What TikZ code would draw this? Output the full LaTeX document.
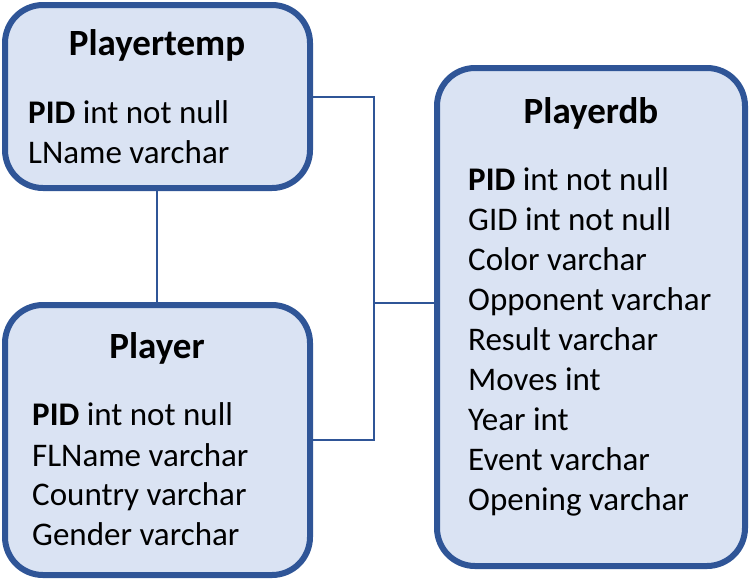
\documentclass[tikz,border=0pt]{standalone}
\usepackage{fontspec}
\setmainfont{Carlito}
\definecolor{boxfill}{HTML}{DAE3F3}
\definecolor{boxline}{HTML}{2F5597}
\begin{document}
\begin{tikzpicture}[x=1pt,y=-1pt,
  tbl/.style={draw=boxline, fill=boxfill, line width=6pt, rounded corners=38pt},
  conn/.style={draw=boxline, line width=2pt},
  ttl/.style={anchor=base, inner sep=0pt, font=\fontsize{37}{44}\selectfont\bfseries},
  fld/.style={anchor=base west, inner sep=0pt, font=\fontsize{33}{40}\selectfont}]
\useasboundingbox (0,0) rectangle (749,579);
% boxes
\path[tbl] (5,5) rectangle (310,188);
\path[tbl] (5,305) rectangle (310,575);
\path[tbl] (437,68) rectangle (745,566);
\coordinate (ptB) at (157,190);
\coordinate (plT) at (157,303);
\coordinate (ptR) at (312,97);
\coordinate (plR) at (312,440);
\coordinate (dbL) at (435,303);
\coordinate (j1) at (374,97);
\coordinate (j2) at (374,440);
\coordinate (j3) at (374,303);
% connectors
\draw[conn] (ptB) -- (plT);
\draw[conn] (ptR) -- (j1) -- (j2) -- (plR);
\draw[conn] (j3) -- (dbL);
% Playertemp
\node[ttl] (t1) at (157,55) {Playertemp};
\node[fld] (t1a) at (28,123) {\textbf{PID} int not null};
\node[fld] (t1b) at (28,163) {LName varchar};
% Player
\node[ttl] (t2) at (157,358) {Player};
\node[fld] (t2a) at (32,425) {\textbf{PID} int not null};
\node[fld] (t2b) at (32,466) {FLName varchar};
\node[fld] (t2c) at (32,505) {Country varchar};
\node[fld] (t2d) at (32,545) {Gender varchar};
% Playerdb
\node[ttl] (t3) at (591,123) {Playerdb};
\node[fld] (t3a) at (468,190) {\textbf{PID} int not null};
\node[fld] (t3b) at (468,230) {GID int not null};
\node[fld] (t3c) at (468,270) {Color varchar};
\node[fld] (t3d) at (468,310) {Opponent varchar};
\node[fld] (t3e) at (468,350) {Result varchar};
\node[fld] (t3f) at (468,390) {Moves int};
\node[fld] (t3g) at (468,430) {Year int};
\node[fld] (t3h) at (468,470) {Event varchar};
\node[fld] (t3i) at (468,510) {Opening varchar};
\end{tikzpicture}
\end{document}
